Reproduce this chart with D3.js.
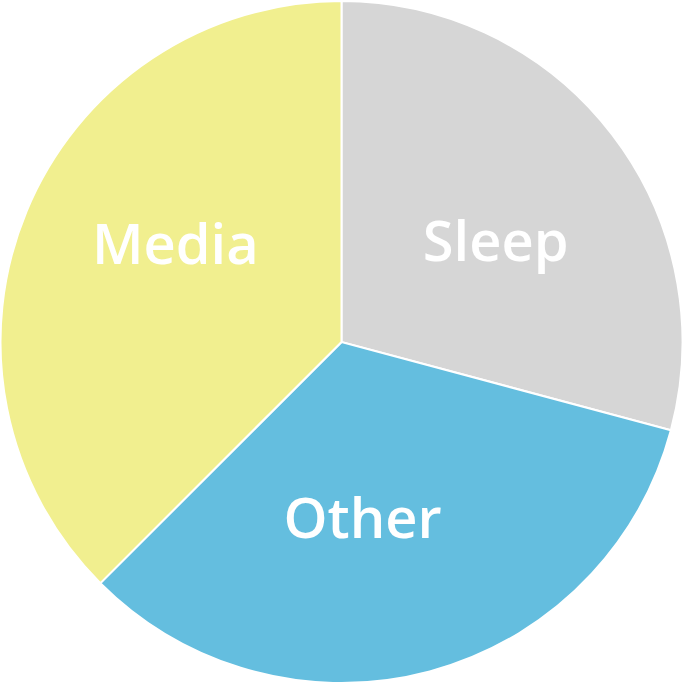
<!DOCTYPE html>
<html><head><meta charset="utf-8">
<script src="https://cdn.jsdelivr.net/npm/d3@7"></script>
<style>html,body{margin:0;padding:0;background:#fff;}</style>
</head><body>
<script>
const categories = ["Sleep", "Other", "Media"];
const values = [7, 8, 9];
const colors = ["#d6d6d6", "#64bedf", "#f1ef8f"];

const W = 684, H = 684, cx = 341.5, cy = 342, R = 341;
const svg = d3.select("body").append("svg").attr("width", W).attr("height", H);
const g = svg.append("g").attr("transform", `translate(${cx},${cy})`);
const data = categories.map((c, i) => ({name: c, value: values[i], color: colors[i]}));
const pie = d3.pie().value(d => d.value).sort(null);
const arcs = pie(data);
const arc = d3.arc().innerRadius(0).outerRadius(R);
g.selectAll("path").data(arcs).join("path")
  .attr("d", arc).attr("fill", d => d.data.color)
  .attr("stroke", "#fff").attr("stroke-width", 2);
const off = 0.12;
const lr = 185;
g.selectAll("text").data(arcs).join("text")
  .attr("x", d => lr * Math.sin((d.startAngle + d.endAngle) / 2 + off) - 5)
  .attr("y", d => -lr * Math.cos((d.startAngle + d.endAngle) / 2 + off) + 13)
  .attr("text-anchor", "middle")
  .attr("fill", "#fff").attr("font-family", "'Open Sans', sans-serif")
  .attr("font-weight", 600).attr("font-size", 56)
  .text(d => d.data.name);
</script>
</body></html>
